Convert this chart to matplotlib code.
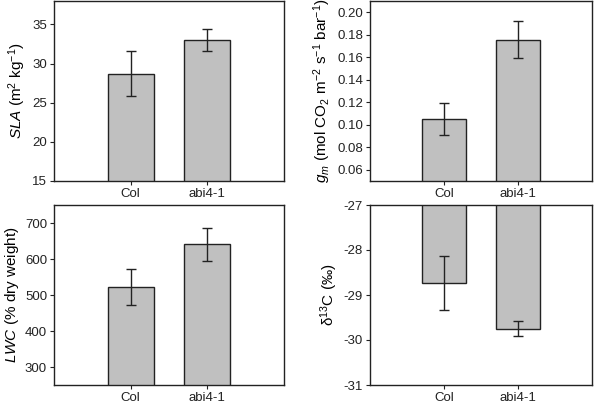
import matplotlib.pyplot as plt

plt.rcParams['font.family'] = ['Liberation Sans', 'DejaVu Sans']
plt.rcParams['mathtext.fontset'] = 'custom'
plt.rcParams['mathtext.rm'] = 'Liberation Sans'
plt.rcParams['mathtext.it'] = 'Liberation Sans:italic'
plt.rcParams['mathtext.bf'] = 'Liberation Sans:bold'

genotypes = ['Col', 'abi4-1']

sla = [28.7, 33.0]
sla_err = [2.85, 1.4]

gm = [0.105, 0.1755]
gm_err = [0.0145, 0.0165]

lwc = [522, 641]
lwc_err = [51, 46]

d13c = [-28.74, -29.75]
d13c_err = [0.6, 0.17]

panels = [
    (sla, sla_err, r'$SLA$ (m$^2$ kg$^{-1}$)', (15, 38), [15, 20, 25, 30, 35], '{:.0f}'),
    (gm, gm_err, r'$g_m$ (mol CO$_2$ m$^{-2}$ s$^{-1}$ bar$^{-1}$)', (0.05, 0.21),
     [0.06, 0.08, 0.10, 0.12, 0.14, 0.16, 0.18, 0.20], '{:.2f}'),
    (lwc, lwc_err, r'$LWC$ (% dry weight)', (250, 750), [300, 400, 500, 600, 700], '{:.0f}'),
    (d13c, d13c_err, 'δ$^{13}$C (‰)', (-31, -27), [-31, -30, -29, -28, -27], '{:.0f}'),
]

fig = plt.figure(figsize=(6.02, 4.07), dpi=100)
# axes boxes in pixel terms: [left, top, right, bottom]
boxes = [(54, 1, 284, 181), (370, 1, 592, 181), (54, 205, 284, 385), (370, 205, 592, 385)]

for (vals, errs, label, ylim, ticks, fmt), (l, t, r, b) in zip(panels, boxes):
    ax = fig.add_axes([l / 602, 1 - b / 407, (r - l) / 602, (b - t) / 407])
    x = range(len(genotypes))
    ax.bar(x, vals, width=0.6, color='#c0c0c0', edgecolor='#222222', linewidth=1.0)
    ax.errorbar(x, vals, yerr=errs, fmt='none', ecolor='#222222', elinewidth=1.0,
                capsize=3.5, capthick=1.0)
    ax.set_xlim(-1, 2)
    ax.set_ylim(*ylim)
    ax.set_yticks(ticks)
    ax.set_yticklabels([fmt.format(v) for v in ticks])
    ax.set_xticks(list(x))
    ax.set_xticklabels(genotypes)
    ax.tick_params(axis='both', direction='out', length=3, width=0.8, labelsize=9.5,
                   colors='#222222', pad=2)
    ax.set_ylabel(label, fontsize=11, labelpad=3)
    for s in ax.spines.values():
        s.set_linewidth(1.0)
        s.set_color('#222222')

fig.savefig('out.png', dpi=100)
